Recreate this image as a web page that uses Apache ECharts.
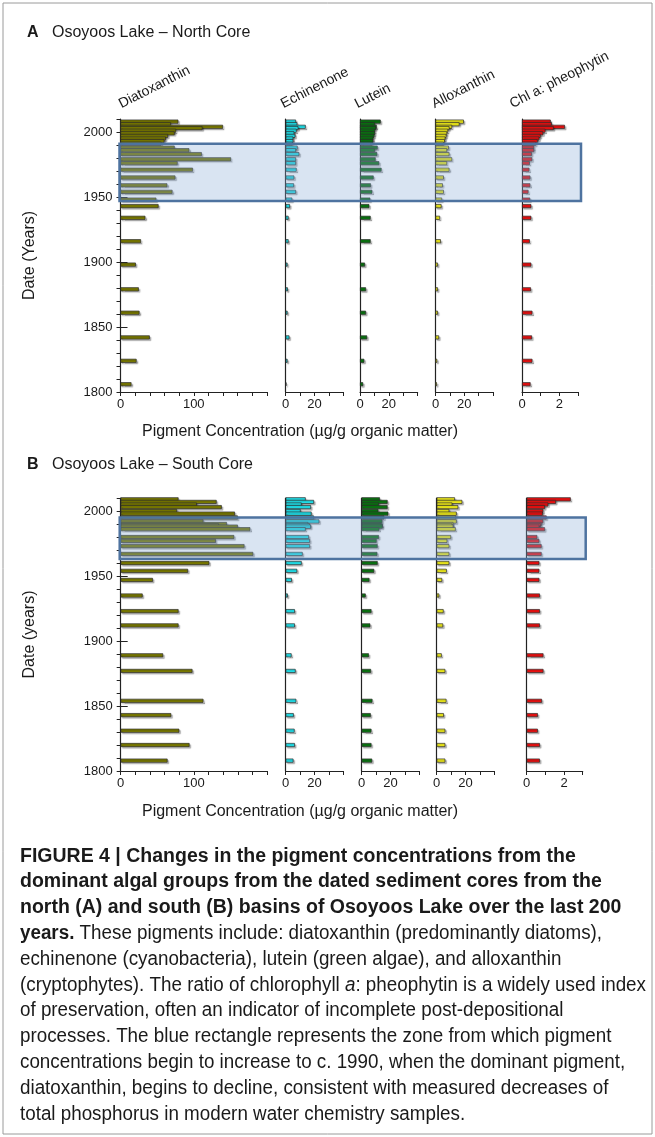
<!DOCTYPE html>
<html>
<head>
<meta charset="utf-8">
<script src="https://cdn.jsdelivr.net/npm/echarts@6.0.0/dist/echarts.min.js"></script>
<style>
  html, body { margin: 0; padding: 0; background: #fff; }
  #chart { width: 655px; height: 1137px; }
</style>
</head>
<body>
<div id="chart"></div>
<script>
// pigment columns
const pigments = ['Diatoxanthin', 'Echinenone', 'Lutein', 'Alloxanthin', 'Chl a: pheophytin']
const axisMax = [200, 40, 40, 40, 3]
const tickStep = [20, 10, 10, 10, 1]
const labelledTicks = [[0, 100], [0, 20], [0, 20], [0, 20], [0, 2]]

// north core (A)
const yearsA = [2008, 2006, 2004, 2003, 2001, 1999, 1997, 1995, 1993, 1991,
  1988, 1986, 1983, 1979, 1976, 1971, 1965, 1959, 1954, 1948, 1943,
  1934, 1916, 1898, 1879, 1861, 1842, 1824, 1806]
const diatoxA = [79, 69, 140, 112, 76, 74, 65, 62, 60, 56,
  74, 94, 111, 151, 78, 99, 75, 64, 71, 49, 52,
  34, 28, 21, 25, 26, 40, 22, 15]
const echinA = [7.2, 8.1, 13.9, 8.8, 7.6, 6, 6.7, 5.3, 5.3, 4.9,
  8.3, 7.2, 9.5, 7.2, 7.2, 7.6, 6, 5.8, 7.2, 4.6, 3,
  2, 2, 1.3, 1.5, 1.3, 2.6, 1.3, 0.5]
const luteinA = [14.4, 10.4, 11.6, 11.1, 10.4, 10.4, 10, 9.3, 9.3, 8.8,
  12.3, 10.4, 12, 10.9, 13.4, 15, 9.5, 7.6, 8.6, 7.2, 6.5,
  7.4, 7.4, 3.5, 4.2, 4.2, 5, 3, 2.2]
const alloxA = [19.7, 16.7, 11.6, 9.7, 8.8, 8.1, 7.6, 6.9, 6.5, 5.8,
  9.3, 8.1, 9.7, 11.6, 8.1, 9.7, 5.8, 5.1, 5.8, 4.6, 4.2,
  3.2, 3.7, 1.7, 1.7, 1.7, 2.5, 1.2, 1]
const chlA = [1.54, 1.6, 2.3, 1.7, 1.26, 1.14, 1.0, 0.93, 0.84, 0.75,
  0.65, 0.65, 0.53, 0.55, 0.42, 0.4, 0.45, 0.45, 0.35, 0.44, 0.5,
  0.5, 0.42, 0.5, 0.48, 0.56, 0.54, 0.56, 0.46]
const zoneA = [1947, 1991]

// south core (B)
const yearsB = [2009, 2007, 2005, 2003, 2000, 1998, 1995, 1992, 1990, 1989,
  1988, 1986, 1980, 1977, 1973, 1967, 1960, 1954, 1947,
  1935, 1923, 1912, 1889, 1877, 1854, 1843, 1831, 1820, 1808]
const diatoxB = [79, 131, 104, 138, 77, 156, 160, 113, 145, 134,
  160, 177, 155, 130, 169, 181, 121, 92, 44,
  30, 79, 79, 58, 98, 113, 69, 80, 94, 64]
const echinB = [13.9, 19.7, 11.1, 17.6, 10.4, 18, 19.7, 23.4, 15.7, 16.9,
  17.6, 13.9, 16.2, 16.9, 16.9, 11.8, 11.1, 8, 4.3,
  1.5, 6.4, 6.4, 4.1, 6.9, 7.4, 5.6, 6.2, 6.4, 5.4]
const luteinB = [12.7, 18, 12, 18, 11.6, 18.5, 15.7, 14.4, 13.2, 14.6,
  14.6, 12.3, 12, 10.4, 11.1, 10.9, 11.1, 8.7, 5.4,
  2.8, 6.8, 6, 5, 6.5, 7.5, 6.3, 6.8, 6.8, 7.3]
const alloxB = [12.7, 17.8, 10.9, 15, 8.8, 13.9, 13.4, 13.9, 11.6, 10.9,
  11.6, 13.2, 10, 7.4, 8.8, 8.8, 8.8, 7, 3.8,
  1.8, 4.8, 4.5, 3.5, 6, 6.8, 5, 6, 6, 6]
const chlB = [2.36, 1.57, 1.16, 0.98, 0.89, 0.86, 1.07, 0.89, 0.8, 0.75,
  0.68, 0.98, 0.57, 0.68, 0.8, 0.8, 0.68, 0.68, 0.68,
  0.71, 0.71, 0.71, 0.9, 0.9, 0.82, 0.6, 0.6, 0.71, 0.71]
const zoneB = [1963, 1995]

// year axis categories, 1800 - 2010
const yearCats = []
for (let y = 1800; y <= 2010; y++) yearCats.push(String(y))

const FONT = '"Liberation Sans", Arial, Helvetica, sans-serif'
const TEXT = '#1a1a1a'
const colors = ['#7f7f00', '#22e8f2', '#0b7a12', '#f7f31c', '#f41212']

const panels = [
  { years: yearsA, values: [diatoxA, echinA, luteinA, alloxA, chlA], zone: zoneA,
    top: 119, lefts: [120.5, 285.7, 360, 435.5, 522], yName: 'Date (Years)' },
  { years: yearsB, values: [diatoxB, echinB, luteinB, alloxB, chlB], zone: zoneB,
    top: 498, lefts: [120.7, 285.7, 361.7, 436.7, 526.7], yName: 'Date (years)' }
]
const colWidth = [146.5, 57.6, 57.6, 57.6, 56]
const plotHeight = 273

const grid = [], xAxis = [], yAxis = [], series = []
panels.forEach((p, pi) => {
  pigments.forEach((name, c) => {
    const g = grid.length
    grid.push({ left: p.lefts[c], top: p.top, width: colWidth[c], height: plotHeight, outerBoundsMode: 'none' })
    xAxis.push({
      gridIndex: g, type: 'value', min: 0, max: axisMax[c], interval: tickStep[c],
      axisLine: { show: true, onZero: false, lineStyle: { color: '#222', width: 1.2 } },
      axisTick: { show: true, length: 4, lineStyle: { color: '#222' } },
      axisLabel: {
        fontFamily: FONT, fontSize: 13, color: TEXT, margin: 6,
        formatter: v => labelledTicks[c].includes(v) ? String(v) : ''
      },
      splitLine: { show: false }
    })
    const yi = yAxis.length
    yAxis.push({
      gridIndex: g, type: 'category', data: yearCats, boundaryGap: false,
      axisLine: { show: true, onZero: false, lineStyle: { color: '#222', width: 1.2 } },
      axisTick: c === 0
        ? { show: true, length: 4, interval: (i, v) => Number(v) % 10 === 0, lineStyle: { color: '#222' } }
        : { show: false },
      axisLabel: c === 0
        ? { show: true, fontFamily: FONT, fontSize: 13, color: TEXT, margin: 8,
            interval: (i, v) => Number(v) % 50 === 0 }
        : { show: false },
      name: c === 0 ? p.yName : '',
      nameLocation: 'middle', nameRotate: 90, nameGap: 83,
      nameTextStyle: { fontFamily: FONT, fontSize: 16, color: TEXT },
      splitLine: { show: false }
    })
    if (c === 0) {
      // longer ticks at the labelled years
      yAxis.push({
        gridIndex: g, type: 'category', data: yearCats, boundaryGap: false,
        axisLine: { show: false },
        axisTick: { show: true, length: 7, interval: (i, v) => Number(v) % 50 === 0, lineStyle: { color: '#222' } },
        axisLabel: { show: false }, splitLine: { show: false }
      })
    }
    series.push({
      type: 'bar', name: name, xAxisIndex: g, yAxisIndex: yi, barWidth: 4, silent: true,
      data: p.years.map((yr, i) => [p.values[c][i], String(yr)]),
      itemStyle: {
        color: colors[c], borderColor: '#2a2a2a', borderWidth: 0.7,
        shadowColor: 'rgba(0,0,0,0.28)', shadowOffsetX: 1.5, shadowOffsetY: 1.5, shadowBlur: 1
      }
    })
  })
})

const chart = echarts.init(document.getElementById('chart'), null, { renderer: 'canvas' })
chart.setOption({ animation: false, backgroundColor: '#fff', grid, xAxis, yAxis, series })

// text and annotations
const graphic = []
graphic.push({ type: 'rect', shape: { x: 3, y: 3, width: 649, height: 1131 },
  style: { fill: 'none', stroke: '#9a9a9a', lineWidth: 1 }, z: 1, silent: true })

const txt = (x, y, text, extra) => Object.assign({
  type: 'text', x, y, silent: true, z: 20,
  style: Object.assign({ text, fontFamily: FONT, fontSize: 16, fill: TEXT, verticalAlign: 'middle' }, extra || {})
})

graphic.push(txt(27, 33, 'A', { fontWeight: 'bold' }))
graphic.push(txt(52, 33, 'Osoyoos Lake \u2013 North Core'))
graphic.push(txt(27, 465, 'B', { fontWeight: 'bold' }))
graphic.push(txt(52, 465, 'Osoyoos Lake \u2013 South Core'))

const titleX = [123, 285, 359, 436, 514]
pigments.forEach((name, c) => {
  graphic.push({ type: 'text', x: titleX[c], y: 111, rotation: 27 * Math.PI / 180, silent: true, z: 20,
    style: { text: name, fontFamily: FONT, fontSize: 14, fill: TEXT, align: 'left', verticalAlign: 'bottom' } })
})

graphic.push(txt(300, 432, 'Pigment Concentration (\u00b5g/g organic matter)', { align: 'center' }))
graphic.push(txt(300, 812, 'Pigment Concentration (\u00b5g/g organic matter)', { align: 'center' }))

// blue zone rectangles from the year axes
panels.forEach((p, pi) => {
  const g0 = pi * 5
  const yi0 = pi * 6
  const a = chart.convertToPixel({ xAxisIndex: g0, yAxisIndex: yi0 }, [0, String(p.zone[1])])
  const b = chart.convertToPixel({ xAxisIndex: g0, yAxisIndex: yi0 }, [0, String(p.zone[0])])
  const r = chart.convertToPixel({ xAxisIndex: g0 + 4, yAxisIndex: yi0 + 5 }, [axisMax[4], String(p.zone[0])])
  graphic.push({ type: 'rect', z: 30, silent: true,
    shape: { x: a[0] - 1, y: a[1], width: r[0] + 4 - a[0], height: b[1] - a[1] },
    style: { fill: 'rgba(138,172,214,0.32)', stroke: '#4e73a0', lineWidth: 2.5 } })
})

// caption (first lines bold, set a little wider like the original)
const capX = 20, capY = 856, capStep = 25.8
const capLines = [
  '{b|FIGURE 4 | Changes in the pigment concentrations from the}',
  '{b|dominant algal groups from the dated sediment cores from the}',
  '{b|north (A) and south (B) basins of Osoyoos Lake over the last 200}',
  '{b|years.} These pigments include: diatoxanthin (predominantly diatoms),',
  'echinenone (cyanobacteria), lutein (green algae), and alloxanthin',
  '(cryptophytes). The ratio of chlorophyll {i|a}: pheophytin is a widely used index',
  'of preservation, often an indicator of incomplete post-depositional',
  'processes. The blue rectangle represents the zone from which pigment',
  'concentrations begin to increase to c. 1990, when the dominant pigment,',
  'diatoxanthin, begins to decline, consistent with measured decreases of',
  'total phosphorus in modern water chemistry samples.'
]
capLines.forEach((line, i) => {
  graphic.push({ type: 'text', x: capX, y: capY + i * capStep, scaleX: i < 3 ? 0.975 : 0.94, silent: true, z: 20,
    style: { text: line, fontFamily: FONT, fontSize: 20, fill: TEXT, verticalAlign: 'middle',
      rich: {
        b: { fontFamily: FONT, fontSize: 20, fontWeight: 'bold', fill: TEXT },
        i: { fontFamily: FONT, fontSize: 20, fontStyle: 'italic', fill: TEXT }
      } } })
})

chart.setOption({ graphic })
</script>
</body>
</html>
